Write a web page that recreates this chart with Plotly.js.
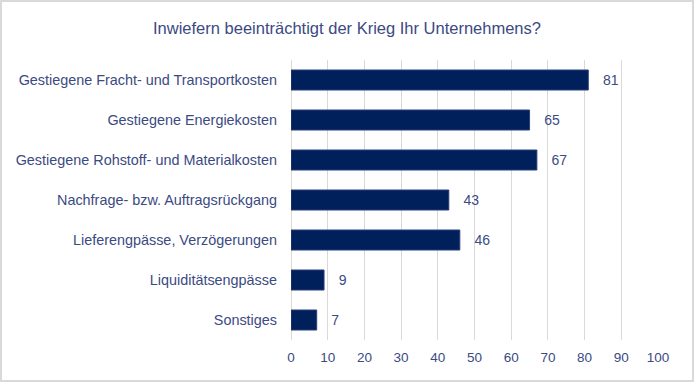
<!DOCTYPE html>
<html><head><meta charset="utf-8">
<script src="https://cdn.plot.ly/plotly-3.0.1.min.js"></script>
<style>
html,body{margin:0;padding:0;background:#fff;}
#wrap{width:694px;height:382px;box-sizing:border-box;border:2px solid #d9d9d9;overflow:hidden;}
#chart{width:690px;height:378px;}
</style></head>
<body><div id="wrap"><div id="chart"></div></div>
<script>
const categories = [
  "Gestiegene Fracht- und Transportkosten",
  "Gestiegene Energiekosten",
  "Gestiegene Rohstoff- und Materialkosten",
  "Nachfrage- bzw. Auftragsrückgang",
  "Lieferengpässe, Verzögerungen",
  "Liquiditätsengpässe",
  "Sonstiges"
];
const values = [81, 65, 67, 43, 46, 9, 7];
const xTicks = [0,10,20,30,40,50,60,70,80,90,100];

const fontFam = "'Liberation Sans', Arial, sans-serif";
const textCol = "#3b4a82";

const trace = {
  type: 'bar',
  orientation: 'h',
  y: categories,
  x: values,
  marker: {color: '#00205b', line: {color: '#2a3f7a', width: 1}},
  text: values.map(v => '   ' + v),
  textposition: 'outside',
  cliponaxis: false,
  textfont: {family: fontFam, size: 14, color: textCol},
  hoverinfo: 'none',
  width: 0.5
};

const layout = {
  width: 690, height: 378,
  margin: {l: 289, r: 34, t: 58, b: 40},
  paper_bgcolor: '#fff', plot_bgcolor: '#fff',
  title: {text: 'Inwiefern beeinträchtigt der Krieg Ihr Unternehmens?',
          font: {family: fontFam, size: 16.5, color: textCol},
          x: 0.5, xanchor: 'center', y: 0.93, yanchor: 'middle'},
  xaxis: {range: [0, 100], tickvals: xTicks, showgrid: true, gridcolor: '#d9d9d9', gridwidth: 1,
          zeroline: true, zerolinecolor: '#d9d9d9', zerolinewidth: 1,
          showline: false, ticks: '', ticklabelstandoff: 7,
          tickfont: {family: fontFam, size: 13.5, color: textCol}, fixedrange: true},
  yaxis: {autorange: 'reversed', showgrid: false, zeroline: false, showline: false,
          ticks: '', ticklabelstandoff: 13,
          tickfont: {family: fontFam, size: 14.4, color: textCol}, fixedrange: true},
  showlegend: false
};

Plotly.newPlot('chart', [trace], layout, {displayModeBar: false, staticPlot: true});
</script></body></html>
